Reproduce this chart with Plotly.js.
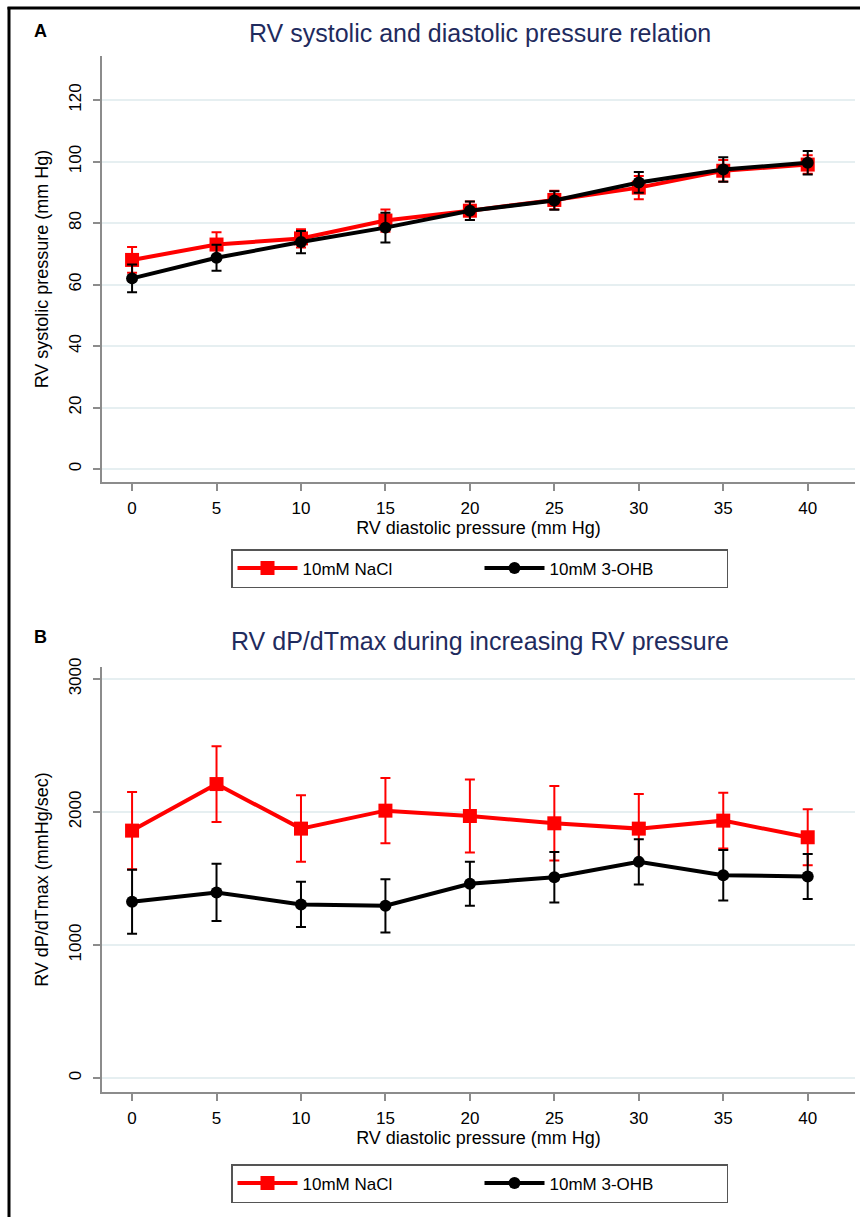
<!DOCTYPE html>
<html>
<head>
<meta charset="utf-8">
<script src="https://cdn.plot.ly/plotly-3.0.1.min.js"></script>
<style>
html,body{margin:0;padding:0;background:#fff;}
#chart{width:860px;height:1217px;}
</style>
</head>
<body>
<div id="chart"></div>
<script>
// ---- data ----
const diastolic = [0, 5, 10, 15, 20, 25, 30, 35, 40];
const seriesNames = ["10mM NaCl", "10mM 3-OHB"];

const naclSystolic    = [68, 73, 75, 80.8, 84, 87.5, 91.5, 97, 99];
const naclSystolicErr = [4.2, 4, 3, 3.6, 3, 3, 3.8, 3.5, 3];
const ohbSystolic     = [62, 68.7, 73.8, 78.5, 84, 87.3, 93.2, 97.4, 99.6];
const ohbSystolicErr  = [4.5, 4.2, 3.6, 4.8, 3, 3, 3.4, 4, 3.8];

const naclDpdt    = [1860, 2210, 1875, 2010, 1970, 1915, 1875, 1935, 1810];
const naclDpdtErr = [290, 285, 250, 245, 275, 280, 260, 210, 210];
const ohbDpdt     = [1325, 1395, 1305, 1295, 1460, 1510, 1625, 1525, 1515];
const ohbDpdtErr  = [240, 215, 170, 200, 165, 190, 170, 190, 170];

const xTicks = [0, 5, 10, 15, 20, 25, 30, 35, 40];
const yTicksA = [0, 20, 40, 60, 80, 100, 120];
const yTicksB = [0, 1000, 2000, 3000];

const titleA = "RV systolic and diastolic pressure relation";
const titleB = "RV dP/dTmax during increasing RV pressure";
const xTitle = "RV diastolic pressure (mm Hg)";
const yTitleA = "RV systolic pressure (mm Hg)";
const yTitleB = "RV dP/dTmax (mmHg/sec)";

// ---- layout helpers ----
const W = 860, H = 1217;
const px = v => v / W;
const py = v => 1 - v / H;
const RED = "#ff0000", BLACK = "#000000";
const FONT = "Liberation Sans, Arial, sans-serif";

function mkTrace(y, err, color, symbol, size, name, xa, ya, legend) {
  return {
    x: diastolic, y: y, type: "scatter", mode: "lines+markers", name: name,
    xaxis: xa, yaxis: ya, legend: legend, showlegend: true,
    line: {color: color, width: 4},
    marker: {color: color, symbol: symbol, size: size},
    error_y: {type: "data", array: err, visible: true, color: color, thickness: 2, width: 5}
  };
}

const traces = [
  mkTrace(naclSystolic, naclSystolicErr, RED, "square", 14, seriesNames[0], "x", "y", "legend"),
  mkTrace(ohbSystolic, ohbSystolicErr, BLACK, "circle", 12, seriesNames[1], "x", "y", "legend"),
  mkTrace(naclDpdt, naclDpdtErr, RED, "square", 14, seriesNames[0], "x2", "y2", "legend2"),
  mkTrace(ohbDpdt, ohbDpdtErr, BLACK, "circle", 12, seriesNames[1], "x2", "y2", "legend2")
];

const axisCommon = {
  showline: true, linecolor: "#8c8c8c", linewidth: 1.5,
  ticks: "outside", ticklen: 7, tickcolor: "#8c8c8c", tickwidth: 1.5,
  zeroline: false, tickfont: {family: FONT, size: 17, color: "#000"},
  automargin: false
};

function xAxis(anchor) {
  return Object.assign({}, axisCommon, {
    domain: [px(102), px(855)], anchor: anchor, range: [-1.78, 42.8],
    tickvals: xTicks, showgrid: false, ticklabelstandoff: 3,
    title: {text: xTitle, font: {family: FONT, size: 18, color: "#000"}, standoff: 0}
  });
}
function yAxis(domain, anchor, range, ticks, title) {
  return Object.assign({}, axisCommon, {
    domain: domain, anchor: anchor, range: range, tickvals: ticks,
    tickangle: -90, showgrid: true, gridcolor: "#e6eff1", gridwidth: 1.5,
    ticklabelstandoff: 5,
    title: {text: title, font: {family: FONT, size: 18, color: "#000"}, standoff: 13}
  });
}

const legendCommon = {
  orientation: "h", xanchor: "left", yanchor: "top",
  bordercolor: "#555", borderwidth: 1.5, bgcolor: "#fff",
  font: {family: FONT, size: 17, color: "#000"},
  itemwidth: 60, entrywidth: 172, traceorder: "normal"
};

const layout = {
  width: W, height: H,
  margin: {l: 0, r: 0, t: 0, b: 0},
  paper_bgcolor: "#fff", plot_bgcolor: "#fff",
  showlegend: true,
  xaxis: xAxis("y"),
  yaxis: yAxis([py(482), py(56)], "x", [-4.2, 134.3], yTicksA, yTitleA),
  xaxis2: xAxis("y2"),
  yaxis2: yAxis([py(1092), py(667)], "x2", [-105, 3090], yTicksB, yTitleB),
  legend: Object.assign({}, legendCommon, {x: px(231), y: py(549)}),
  legend2: Object.assign({}, legendCommon, {x: px(231), y: py(1164)}),
  annotations: [
    {text: titleA, xref: "paper", yref: "paper", x: px(480), y: py(33), showarrow: false,
     font: {family: FONT, size: 25, color: "#1f2b5e"}, xanchor: "center", yanchor: "middle"},
    {text: titleB, xref: "paper", yref: "paper", x: px(480), y: py(641), showarrow: false,
     font: {family: FONT, size: 25, color: "#1f2b5e"}, xanchor: "center", yanchor: "middle"},
    {text: "<b>A</b>", xref: "paper", yref: "paper", x: px(40), y: py(31), showarrow: false,
     font: {family: FONT, size: 18, color: "#000"}, xanchor: "center", yanchor: "middle"},
    {text: "<b>B</b>", xref: "paper", yref: "paper", x: px(40), y: py(637), showarrow: false,
     font: {family: FONT, size: 18, color: "#000"}, xanchor: "center", yanchor: "middle"}
  ],
  shapes: [
    {type: "line", xref: "paper", yref: "paper", x0: px(9), x1: px(9), y0: 0, y1: py(7),
     line: {color: "#000", width: 3}},
    {type: "line", xref: "paper", yref: "paper", x0: px(7.5), x1: 1, y0: py(8), y1: py(8),
     line: {color: "#000", width: 3}}
  ]
};

Plotly.newPlot("chart", traces, layout, {displayModeBar: false, responsive: false});
</script>
</body>
</html>
